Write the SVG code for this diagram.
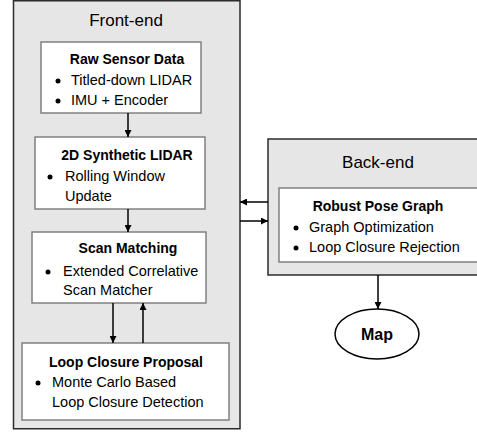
<svg xmlns="http://www.w3.org/2000/svg" width="477" height="433" viewBox="0 0 477 433">
<defs>
<marker id="ah" viewBox="0 0 10 10" refX="10" refY="5" markerWidth="7" markerHeight="7" markerUnits="userSpaceOnUse" orient="auto">
<path d="M0,0 L10,5 L0,10 z" fill="#000"/>
</marker>
<style>
.outer{fill:#e6e6e6;stroke:#2b2b2b;stroke-width:1.5}
.inner{fill:#fff;stroke:#808080;stroke-width:1.5}
.hdr{font-family:"Liberation Sans",Arial,sans-serif;font-size:17px;fill:#000;text-anchor:middle}
.ttl{font-family:"Liberation Sans",Arial,sans-serif;font-size:14px;font-weight:bold;fill:#000;text-anchor:middle}
.txt{font-family:"Liberation Sans",Arial,sans-serif;font-size:14.5px;fill:#000}
.bul{fill:#000}
.con{stroke:#000;stroke-width:1.5;fill:none;marker-end:url(#ah)}
</style>
</defs>
<g id="front-end">
<rect class="outer" x="13.5" y="0.75" width="226.5" height="428"/>
<text class="hdr" x="126" y="26">Front-end</text>
</g>
<g id="raw-sensor-data">
<rect class="inner" x="41" y="42" width="160" height="71"/>
<text class="ttl" x="127" y="64">Raw Sensor Data</text>
<circle class="bul" cx="58" cy="81" r="2.5"/>
<text class="txt" x="71" y="85">Titled-down LIDAR</text>
<circle class="bul" cx="58" cy="101" r="2.5"/>
<text class="txt" x="71" y="105">IMU + Encoder</text>
</g>
<g id="synthetic-lidar">
<rect class="inner" x="35" y="137" width="170" height="72"/>
<text class="ttl" x="127" y="160">2D Synthetic LIDAR</text>
<circle class="bul" cx="50" cy="177" r="2.5"/>
<text class="txt" x="65" y="181">Rolling Window</text>
<text class="txt" x="65" y="201">Update</text>
</g>
<g id="scan-matching">
<rect class="inner" x="32" y="232" width="174" height="71"/>
<text class="ttl" x="128" y="253">Scan Matching</text>
<circle class="bul" cx="48" cy="272" r="2.5"/>
<text class="txt" x="63" y="276">Extended Correlative</text>
<text class="txt" x="63" y="295">Scan Matcher</text>
</g>
<g id="loop-closure-proposal">
<rect class="inner" x="22" y="343" width="207" height="77"/>
<text class="ttl" x="126" y="367">Loop Closure Proposal</text>
<circle class="bul" cx="38" cy="383" r="2.5"/>
<text class="txt" x="52" y="387">Monte Carlo Based</text>
<text class="txt" x="52" y="407">Loop Closure Detection</text>
</g>
<g id="back-end">
<rect class="outer" x="268" y="139" width="215" height="136"/>
<text class="hdr" x="378" y="168">Back-end</text>
</g>
<g id="robust-pose-graph">
<rect class="inner" x="279" y="188" width="200" height="74"/>
<text class="ttl" x="378" y="211">Robust Pose Graph</text>
<circle class="bul" cx="296" cy="228" r="2.5"/>
<text class="txt" x="309" y="232">Graph Optimization</text>
<circle class="bul" cx="296" cy="248" r="2.5"/>
<text class="txt" x="309" y="252">Loop Closure Rejection</text>
</g>
<g id="map">
<ellipse cx="377" cy="334" rx="42" ry="25" fill="#fff" stroke="#000" stroke-width="1.5"/>
<text class="ttl" x="377" y="340" style="font-size:16px">Map</text>
</g>
<g id="connectors">
<line class="con" x1="128" y1="113" x2="128" y2="137"/>
<line class="con" x1="128" y1="209" x2="128" y2="232"/>
<line class="con" x1="113" y1="303" x2="113" y2="343"/>
<line class="con" x1="143" y1="343" x2="143" y2="303"/>
<line class="con" x1="268" y1="202" x2="240" y2="202"/>
<line class="con" x1="240" y1="221" x2="268" y2="221"/>
<line class="con" x1="378" y1="275" x2="378" y2="309"/>
</g>
</svg>
